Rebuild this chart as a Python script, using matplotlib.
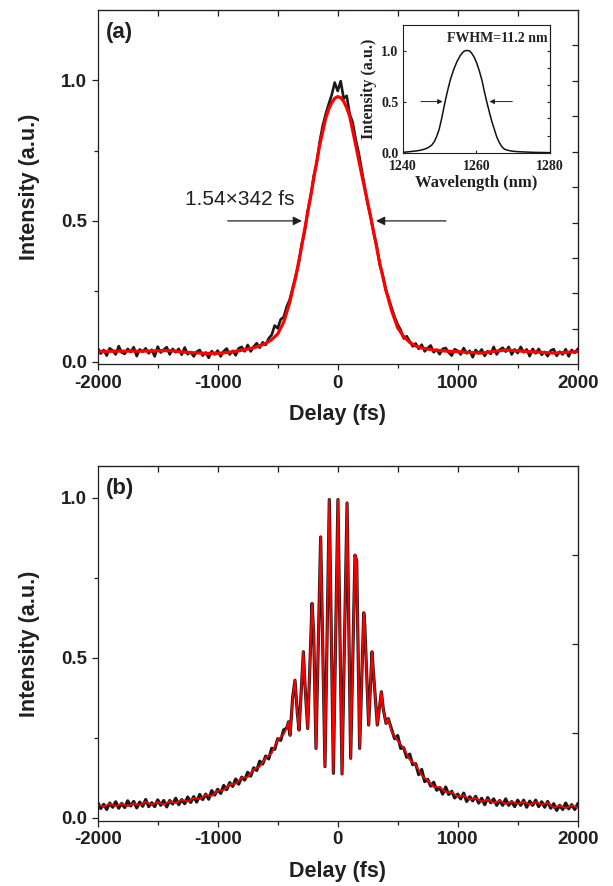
import numpy as np
import matplotlib
matplotlib.use('Agg')
import matplotlib.pyplot as plt
from matplotlib.ticker import NullFormatter

plt.rcParams['font.family'] = ['Liberation Sans', 'DejaVu Sans']
plt.rcParams['font.weight'] = 'bold'
plt.rcParams['axes.labelweight'] = 'bold'
plt.rcParams['axes.unicode_minus'] = False

INK = '#231f20'

# ---- (a) intensity autocorrelation, measured trace every 25 fs ----
delay_a = np.arange(-2000, 2001, 25)
trace_a = [
    0.048, 0.028, 0.041, 0.021, 0.047, 0.039, 0.025, 0.055, 0.032, 0.027,
    0.045, 0.034, 0.051, 0.019, 0.043, 0.035, 0.047, 0.029, 0.042, 0.018,
    0.053, 0.032, 0.042, 0.051, 0.025, 0.045, 0.033, 0.045, 0.024, 0.050,
    0.026, 0.034, 0.018, 0.035, 0.041, 0.021, 0.032, 0.013, 0.037, 0.025,
    0.039, 0.018, 0.037, 0.046, 0.025, 0.038, 0.022, 0.047, 0.052, 0.036,
    0.059, 0.036, 0.053, 0.065, 0.049,
    0.068, 0.059, 0.082, 0.095, 0.128, 0.118, 0.150, 0.158, 0.195, 0.220,
    0.262, 0.305, 0.348, 0.418, 0.462, 0.535, 0.585, 0.660, 0.705, 0.782,
    0.838, 0.880, 0.915, 0.948, 0.992, 0.962, 0.997, 0.935, 0.945, 0.880,
    0.850, 0.790, 0.742, 0.682, 0.622, 0.560, 0.515, 0.455, 0.412, 0.345,
    0.308, 0.255, 0.224, 0.190, 0.158, 0.132, 0.112, 0.082, 0.090, 0.072,
    0.054,
    0.064, 0.045, 0.060, 0.036, 0.048, 0.057, 0.033, 0.042, 0.026, 0.045,
    0.048, 0.032, 0.021, 0.044, 0.038, 0.025, 0.048, 0.029, 0.038, 0.015,
    0.041, 0.029, 0.043, 0.020, 0.037, 0.027, 0.052, 0.025, 0.042, 0.049,
    0.035, 0.052, 0.025, 0.043, 0.030, 0.052, 0.033, 0.043, 0.019, 0.045,
    0.029, 0.045, 0.024, 0.034, 0.019, 0.039, 0.044, 0.020, 0.035, 0.025,
    0.044, 0.018, 0.041, 0.031, 0.044,
]

# red fit of (a)
fit_delay_a = [-2000, -1800, -1600, -1500, -1400, -1300, -1200, -1100, -1000, -900,
               -800, -700, -650, -600, -550, -500, -450, -400, -350, -300,
               -250, -200, -150, -100, -75, -50, -25, 0, 25, 50, 75, 100, 150, 200,
               250, 300, 350, 400, 450, 500, 550, 600, 650, 700,
               800, 900, 1000, 1100, 1200, 1300, 1400, 1500, 1600, 1800, 2000]
fit_a = [0.036, 0.037, 0.037, 0.038, 0.039, 0.034, 0.031, 0.029, 0.029, 0.033,
         0.040, 0.049, 0.056, 0.064, 0.078, 0.098, 0.140, 0.210, 0.300, 0.410,
         0.530, 0.650, 0.770, 0.865, 0.897, 0.920, 0.936, 0.942, 0.938, 0.925, 0.902, 0.872, 0.770, 0.665,
         0.565, 0.460, 0.350, 0.257, 0.180, 0.120, 0.088, 0.068, 0.055, 0.048,
         0.041, 0.037, 0.035, 0.032, 0.030, 0.036, 0.041, 0.038, 0.035, 0.030, 0.035]

# inset: optical spectrum
wavelength = [1240, 1242.0, 1244.3, 1245.5, 1246.5, 1247.2, 1247.9, 1248.6, 1249.2, 1249.9,
              1250.6, 1251.5, 1252.2, 1252.9, 1253.8, 1254.7, 1255.6, 1256.5, 1257.1, 1257.7,
              1258.2, 1258.7, 1259.4, 1260.1, 1260.8, 1261.5, 1262.1, 1262.8, 1263.5, 1264.2,
              1264.9, 1265.5, 1266.2, 1266.9, 1267.5, 1268.2, 1269.5, 1271.0, 1275.5, 1280]
spectrum = [0.003, 0.010, 0.020, 0.030, 0.042, 0.056, 0.075, 0.110, 0.157, 0.230,
            0.340, 0.500, 0.610, 0.710, 0.810, 0.890, 0.950, 0.990, 0.999, 1.000,
            0.995, 0.975, 0.935, 0.876, 0.800, 0.710, 0.610, 0.500, 0.400, 0.304,
            0.225, 0.157, 0.100, 0.059, 0.038, 0.026, 0.016, 0.010, 0.003, 0.0]

# ---- (b) interferometric autocorrelation ----
wing_left_delay = np.arange(-2000, -449, 25)
wing_left_b = [
    0.048, 0.029, 0.042, 0.026, 0.046, 0.033, 0.050, 0.030, 0.045, 0.032,
    0.053, 0.037, 0.051, 0.031, 0.049, 0.036, 0.057, 0.035, 0.047, 0.035,
    0.056, 0.039, 0.054, 0.034, 0.054, 0.043, 0.061, 0.041, 0.057, 0.044,
    0.065, 0.048, 0.066, 0.049, 0.073, 0.057, 0.074, 0.058, 0.085, 0.071,
    0.089, 0.076, 0.101, 0.088, 0.110, 0.098, 0.121, 0.105, 0.127, 0.118,
    0.142, 0.130, 0.156, 0.148, 0.177, 0.168, 0.193, 0.184, 0.217, 0.214,
    0.247, 0.242, 0.275,
]
wing_right_delay = np.arange(450, 2001, 25)
wing_right_b = [
    0.275, 0.247, 0.257, 0.217, 0.219, 0.189, 0.199, 0.166, 0.169, 0.135,
    0.151, 0.113, 0.120, 0.099, 0.111, 0.086, 0.095, 0.074, 0.096, 0.073,
    0.083, 0.062, 0.074, 0.059, 0.077, 0.051, 0.066, 0.053, 0.067, 0.046,
    0.061, 0.041, 0.063, 0.047, 0.059, 0.039, 0.054, 0.039, 0.059, 0.039,
    0.051, 0.035, 0.055, 0.039, 0.055, 0.033, 0.052, 0.039, 0.055, 0.035,
    0.050, 0.033, 0.051, 0.030, 0.044, 0.023, 0.039, 0.026, 0.046, 0.028,
    0.041, 0.026, 0.043,
]
red_left_delay = np.arange(-2000, -449, 50)
red_left_b = [0.043, 0.034, 0.044, 0.036, 0.044, 0.036, 0.045, 0.039, 0.050, 0.041,
              0.049, 0.041, 0.052, 0.046, 0.057, 0.050, 0.062, 0.058, 0.072, 0.068,
              0.085, 0.086, 0.105, 0.106, 0.125, 0.127, 0.151, 0.160, 0.188, 0.202,
              0.243, 0.261]
red_right_delay = np.arange(450, 2001, 50)
red_right_b = [0.268, 0.240, 0.218, 0.181, 0.166, 0.132, 0.117, 0.096, 0.096, 0.080,
               0.080, 0.066, 0.070, 0.057, 0.062, 0.050, 0.057, 0.047, 0.053, 0.043,
               0.051, 0.043, 0.050, 0.041, 0.049, 0.041, 0.047, 0.031, 0.039, 0.030,
               0.039, 0.032]
# fringe extrema around zero delay
fringe_delay = [-425, -410, -397, -375, -356, -336, -322, -286, -272, -250,
                -214, -200, -181, -142, -106, -70, -36, 2, 36, 78,
                108, 144, 158, 183, 217, 226, 258, 286, 295, 330,
                364, 380, 403, 422]
fringe_b = [0.280, 0.300, 0.258, 0.378, 0.430, 0.326, 0.274, 0.519, 0.410, 0.279,
            0.670, 0.576, 0.217, 0.878, 0.160, 0.995, 0.139, 0.995, 0.137, 0.984,
            0.186, 0.821, 0.805, 0.217, 0.641, 0.600, 0.290, 0.519, 0.470, 0.290,
            0.394, 0.340, 0.295, 0.310]

black_delay_b = np.concatenate([wing_left_delay, fringe_delay, wing_right_delay])
black_b = np.concatenate([wing_left_b, fringe_b, wing_right_b])
red_delay_b = np.concatenate([red_left_delay, fringe_delay, red_right_delay])
red_b = np.concatenate([red_left_b, fringe_b, red_right_b])

right_ticks_a = [0.115, 0.242, 0.367, 0.493, 0.620, 0.746, 0.873, 0.999, 1.127]
right_ticks_b = [0.265, 0.543, 0.821]


def style_main(ax, ylim, right_ticks):
    ax.set_xlim(-2000, 2000)
    ax.set_ylim(*ylim)
    ax.set_xticks([-2000, -1000, 0, 1000, 2000])
    ax.set_xticks([-1500, -500, 500, 1500], minor=True)
    ax.set_yticks([0.0, 0.5, 1.0])
    ax.set_yticks([0.25, 0.75], minor=True)
    ax.set_yticklabels(['0.0', '0.5', '1.0'])
    ax.tick_params(which='both', direction='out', top=False, right=False,
                   colors=INK, labelsize=13.5, width=0.9)
    ax.tick_params(which='major', length=4.5, pad=3)
    ax.tick_params(which='minor', length=3)
    for s in ax.spines.values():
        s.set_color(INK)
        s.set_linewidth(0.9)
    ax.set_xlabel('Delay (fs)', fontsize=15.5, color=INK, labelpad=9)
    ax.set_ylabel('Intensity (a.u.)', fontsize=15.5, color=INK, labelpad=15)
    top = ax.secondary_xaxis('top')
    top.set_xticks([-1500, -1000, -500, 0, 500, 1000, 1500])
    top.xaxis.set_major_formatter(NullFormatter())
    top.tick_params(direction='in', length=4, width=0.9, colors=INK)
    right = ax.secondary_yaxis('right')
    right.set_yticks(right_ticks)
    right.yaxis.set_major_formatter(NullFormatter())
    right.tick_params(direction='in', length=4, width=0.9, colors=INK)


fig = plt.figure(figsize=(6.13, 8.86), dpi=100)

# panel (a)
ax_a = fig.add_axes([0.1594, 0.5888, 0.783, 0.3999])
ax_a.plot(delay_a, trace_a, color='#1a1a1a', lw=1.9)
ax_a.plot(fit_delay_a, fit_a, color='#ff0000', lw=2.3)
style_main(ax_a, (-0.01, 1.25), right_ticks_a)
ax_a.text(0.018, 0.965, '(a)', transform=ax_a.transAxes, fontsize=16,
          ha='left', va='top', color=INK)
ax_a.text(-820, 0.557, '1.54\u00d7342 fs', fontsize=15, fontweight='normal',
          ha='center', va='baseline', color=INK)
arrow = dict(arrowstyle='-|>', color=INK, lw=0.9, mutation_scale=13)
ax_a.annotate('', xy=(-275, 0.5), xytext=(-940, 0.5), arrowprops=arrow)
ax_a.annotate('', xy=(296, 0.5), xytext=(925, 0.5), arrowprops=arrow)

# inset spectrum
serif = ['Liberation Serif', 'DejaVu Serif']
ax_in = fig.add_axes([0.657, 0.8277, 0.2403, 0.1441])
ax_in.plot(wavelength, spectrum, color='#111111', lw=1.1)
ax_in.set_xlim(1240, 1280)
ax_in.set_ylim(0, 1.25)
ax_in.set_xticks([1240, 1260, 1280])
ax_in.set_yticks([0.0, 0.5, 1.0])
ax_in.set_yticklabels(['0.0', '0.5', '1.0'])
ax_in.set_xticklabels(['1240', '1260', '1280'])
ax_in.tick_params(direction='in', length=2.5, width=0.8, colors=INK,
                  labelsize=10, top=False, right=False)
ax_in.tick_params(axis='x', pad=5)
ax_in.tick_params(axis='y', pad=3)
for lab in ax_in.get_xticklabels() + ax_in.get_yticklabels():
    lab.set_family(serif)
    lab.set_fontweight('bold')
for s in ax_in.spines.values():
    s.set_color(INK)
    s.set_linewidth(0.8)
ax_in.set_xlabel('Wavelength (nm)', family=serif, fontsize=12, fontweight='bold',
                 color=INK, labelpad=2)
ax_in.set_ylabel('Intensity (a.u.)', family=serif, fontsize=11.5, fontweight='bold',
                 color=INK, labelpad=3)
in_right = ax_in.secondary_yaxis('right')
in_right.set_yticks([0.167, 0.337, 0.5, 0.66, 0.833, 1.0])
in_right.yaxis.set_major_formatter(NullFormatter())
in_right.tick_params(direction='in', length=2.5, width=0.8, colors=INK)
ax_in.text(1279.3, 1.08, 'FWHM=11.2 nm', family=serif, fontsize=10, fontweight='bold',
           ha='right', va='baseline', color=INK)
small = dict(arrowstyle='-|>', color=INK, lw=0.7, mutation_scale=7)
ax_in.annotate('', xy=(1251.6, 0.5), xytext=(1244.2, 0.5), arrowprops=small)
ax_in.annotate('', xy=(1262.8, 0.5), xytext=(1270.5, 0.5), arrowprops=small)

# panel (b)
ax_b = fig.add_axes([0.1594, 0.0734, 0.783, 0.4007])
ax_b.plot(black_delay_b, black_b, color='#1a1a1a', lw=2.3)
ax_b.plot(red_delay_b, red_b, color='#ff0000', lw=1.3)
style_main(ax_b, (-0.01, 1.1), right_ticks_b)
ax_b.text(0.018, 0.965, '(b)', transform=ax_b.transAxes, fontsize=16,
          ha='left', va='top', color=INK)

fig.savefig('out.png', dpi=100)
